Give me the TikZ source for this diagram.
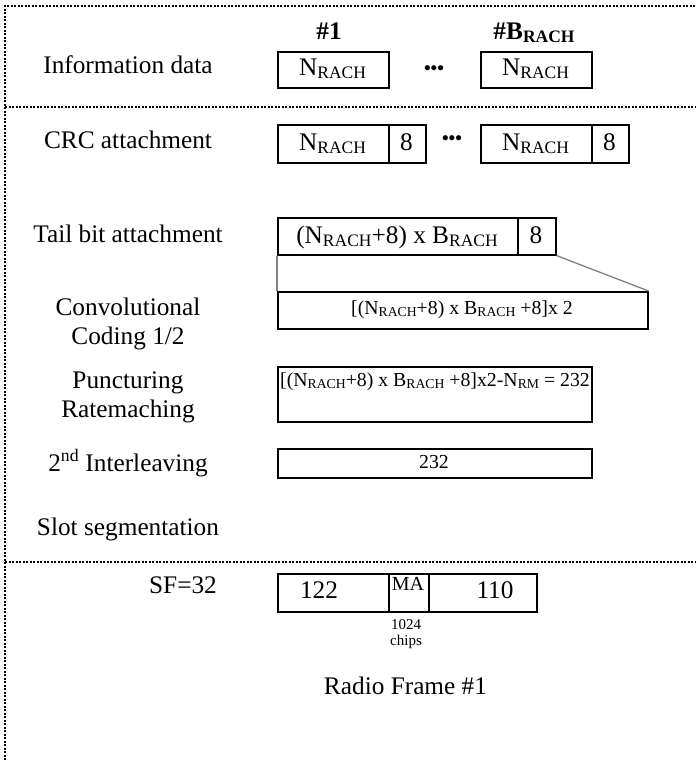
\documentclass[tikz,border=0pt]{standalone}
\usepackage{fontspec}
\setmainfont{Liberation Serif}
\newcommand\subL[1]{\raisebox{-3pt}{\fontsize{17.5}{18}\selectfont #1}}
\newcommand\subS[1]{\raisebox{-2.3pt}{\fontsize{13.7}{14}\selectfont #1}}
\begin{document}
\begin{tikzpicture}[x=1pt,y=-1pt,
  box/.style={draw, line width=1.6pt, inner sep=0pt, anchor=north west},
  gline/.style={draw=black!50, line width=1.3pt},
  sepline/.style={line width=2.2pt, dash pattern=on 2pt off 1.5pt},
  big/.style={font=\fontsize{25.3}{29}\selectfont, inner sep=0pt},
  mid/.style={font=\fontsize{19.8}{22}\selectfont, inner sep=0pt},
  dots/.style={font=\fontsize{19}{20}\selectfont\bfseries, inner sep=0pt},
  lab/.style={big, align=center}]
\useasboundingbox (0,0) rectangle (696,760);
% dotted frame and separators
\coordinate (tl) at (5,6);
\coordinate (tr) at (696,6);
\coordinate (bl) at (5,760);
\coordinate (s1l) at (5,107);
\coordinate (s1r) at (696,107);
\coordinate (s2l) at (5,562);
\coordinate (s2r) at (696,562);
\draw[sepline] (bl) -- (tl) -- (tr);
\draw[sepline] (s1l) -- (s1r);
\draw[sepline] (s2l) -- (s2r);

% column headers
\node[big, font=\fontsize{25.3}{29}\selectfont\bfseries, anchor=base] (h1) at (329,40) {\#1};
\node[big, font=\fontsize{25.3}{29}\selectfont\bfseries, anchor=base] (h2) at (534,40) {\#B\subL{RACH}};

% left labels
\node[lab, anchor=base] (lInfo) at (128,74) {Information data};
\node[lab, anchor=base] (lCRC) at (128,148) {CRC attachment};
\node[lab, anchor=base] (lTail) at (128,242) {Tail bit attachment};
\node[lab] (lConv) at (128,323.5) {Convolutional\\Coding 1/2};
\node[lab] (lPunct) at (128,397.6) {Puncturing\\Ratemaching};
\node[lab, anchor=base] (lInter) at (128,471) {2\textsuperscript{nd} Interleaving};
\node[lab, anchor=base] (lSlot) at (128,535) {Slot segmentation};
\node[lab, anchor=base] (lSF) at (183,593) {SF=32};

% information data
\node[box, minimum width=111pt, minimum height=36pt] (i1) at (277,51) {};
\node[box, minimum width=111pt, minimum height=36pt] (i2) at (480,51) {};
\node[big, anchor=base] (ti1) at (332.5,75) {N\subL{RACH}};
\node[big, anchor=base] (ti2) at (535.5,75) {N\subL{RACH}};
\node[dots] (d1) at (434,70) {•••};

% CRC attachment
\node[box, minimum width=111pt, minimum height=38pt] (c1a) at (277,124) {};
\node[box, minimum width=37pt, minimum height=38pt] (c1b) at (388,124) {};
\node[box, minimum width=111pt, minimum height=38pt] (c2a) at (480,124) {};
\node[box, minimum width=37pt, minimum height=38pt] (c2b) at (591,124) {};
\node[big, anchor=base] (tc1a) at (332.5,150) {N\subL{RACH}};
\node[big, anchor=base] (tc1b) at (406.5,150) {8};
\node[big, anchor=base] (tc2a) at (535.5,150) {N\subL{RACH}};
\node[big, anchor=base] (tc2b) at (609.5,150) {8};
\node[dots] (d2) at (452,140) {•••};

% tail bit attachment
\node[box, minimum width=240pt, minimum height=37pt] (t1) at (277,217) {};
\node[box, minimum width=38pt, minimum height=37pt] (t2) at (517,217) {};
\node[big, anchor=base] (tt1) at (397,243) {(N\subL{RACH}+8) x B\subL{RACH}};
\node[big, anchor=base] (tt2) at (536,243) {8};

% convolutional coding
\node[box, minimum width=370pt, minimum height=37pt] (cv) at (277,291) {};
\node[mid, anchor=base] (tcv) at (462,314) {[(N\subS{RACH}+8) x B\subS{RACH} +8]x 2};
\draw[gline] (t1.south west) -- (cv.north west);
\draw[gline] (t2.south east) -- (cv.north east);

% puncturing
\node[box, minimum width=314pt, minimum height=55pt] (pu) at (277,366) {};
\node[mid, anchor=base west] (tpu) at (280,386) {[(N\subS{RACH}+8) x B\subS{RACH} +8]x2-N\subS{RM} = 232};

% interleaving
\node[box, minimum width=314pt, minimum height=29pt] (il) at (277,448) {};
\node[mid, anchor=base] (til) at (434,468) {232};

% slot
\node[box, minimum width=111pt, minimum height=38pt] (s1) at (277,573) {};
\node[box, minimum width=40pt, minimum height=38pt] (s2) at (388,573) {};
\node[box, minimum width=108pt, minimum height=38pt] (s3) at (428,573) {};
\node[big, anchor=base] (ts1) at (319,598) {122};
\node[font=\fontsize{20}{20}\selectfont, inner sep=0pt, anchor=base] (ts2) at (408,590) {MA};
\node[big, anchor=base] (ts3) at (495,598) {110};
\node[font=\fontsize{15}{16}\selectfont, inner sep=0pt, anchor=base] (chips1) at (406,629) {1024};
\node[font=\fontsize{15}{16}\selectfont, inner sep=0pt, anchor=base] (chips2) at (406,645) {chips};
\node[big, anchor=base] (rf) at (405.5,694) {Radio Frame \#1};
\end{tikzpicture}
\end{document}
